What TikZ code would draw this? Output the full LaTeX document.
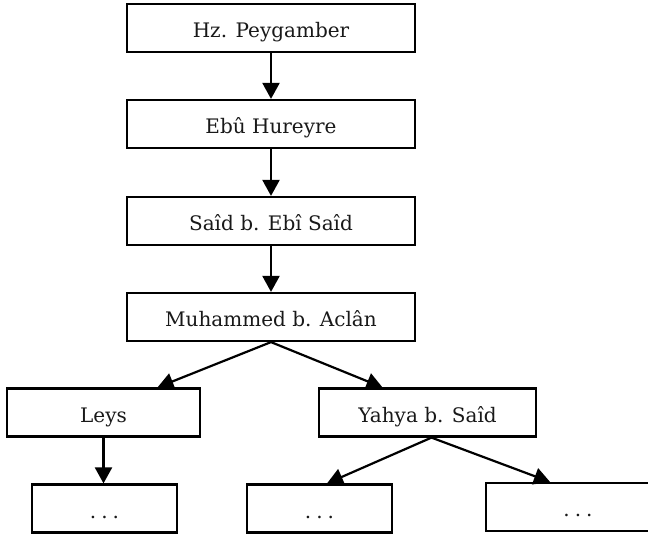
\documentclass[tikz,border=0pt]{standalone}
\usepackage{fontspec}
\setmainfont{DejaVu Serif}
\usetikzlibrary{arrows.meta}
\newcommand{\gap}{.\hspace{5pt}.\hspace{5pt}.}

\begin{document}
\begin{tikzpicture}[x=1pt,y=-1pt]
\tikzstyle{box}=[draw=black, line width=2.2pt, inner sep=0pt, minimum height=48pt, text height=19pt, text depth=0pt, font=\fontsize{20}{24}\selectfont, text=black!90]
\tikzstyle{link}=[black, line width=2.2pt, -{Triangle[length=16pt,width=17pt]}]
\useasboundingbox (0,0) rectangle (648,536);
\clip (0,0) rectangle (648,536);
% chain
\node [box, minimum width=288pt] (hz) at (271,28) {Hz. Peygamber};
\node [box, minimum width=288pt] (ebu) at (271,124) {Ebû Hureyre};
\node [box, minimum width=288pt] (said) at (271,221) {Saîd b. Ebî Saîd};
\node [box, minimum width=288pt] (aclan) at (271,317) {Muhammed b. Aclân};
% second row
\node [box, minimum width=193pt] (leys) at (103.5,412.5) {Leys};
\node [box, minimum width=217pt] (yahya) at (427.5,412.5) {Yahya b. Saîd};
% last row
\node [box, minimum width=145pt] (dots1) at (104.5,508.5) {\gap};
\node [box, minimum width=145pt] (dots2) at (319.5,508.5) {\gap};
\node [box, minimum width=184pt] (dots3) at (578,507) {\gap};
\draw [link] (hz) -- (ebu);
\draw [link] (ebu) -- (said);
\draw [link] (said) -- (aclan);
\draw [link] (aclan.south) -- ([xshift=54pt]leys.north);
\draw [link] (aclan.south) -- ([xshift=-45pt]yahya.north);
\draw [link] (leys.south) -- (leys.south |- dots1.north);
\draw [link] ([xshift=4pt]yahya.south) -- ([xshift=7.5pt]dots2.north);
\draw [link] ([xshift=4pt]yahya.south) -- ([xshift=-28pt]dots3.north);
\end{tikzpicture}
\end{document}
